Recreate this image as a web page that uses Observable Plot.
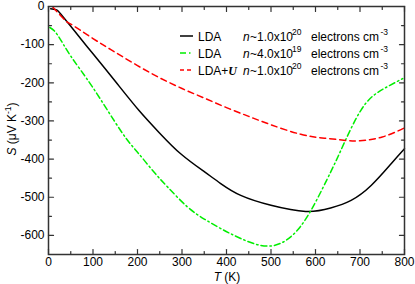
<!DOCTYPE html>
<html><head><meta charset="utf-8">
<script src="https://cdn.jsdelivr.net/npm/d3@7"></script>
<script src="https://cdn.jsdelivr.net/npm/@observablehq/plot@0.6"></script>
<style>
body{margin:0;background:#fff;}
#chart{position:relative;width:415px;height:284px;}
</style>
</head><body><div id="chart"></div>
<script>
// Series: LDA n~1.0e20
const tempLDA = [5, 15, 20, 27, 50, 100, 150, 203, 250, 297, 350, 387, 432, 500, 578, 634, 680, 725, 770, 800];
const seebeckLDA = [-6, -8, -10, -19, -52, -124, -196, -272, -332, -386, -433, -464, -495, -521, -537, -528, -508, -469, -412, -373];
// Series: LDA n~4.0e19
const tempLDA19 = [3, 20, 50, 100, 162, 200, 237, 270, 312, 350, 387, 432, 492, 545, 590, 634, 657, 702, 747, 796];
const seebeckLDA19 = [-55, -74, -130, -213, -325, -382, -434, -476, -525, -557, -582, -608, -628, -603, -534, -434, -377, -272, -220, -189];
// Series: LDA+U n~1.0e20
const tempLDAU = [10, 20, 38, 50, 100, 150, 200, 250, 300, 350, 400, 450, 500, 567, 620, 668, 700, 750, 800];
const seebeckLDAU = [-2, -15, -37, -46, -84, -120, -155, -187, -215, -240, -265, -288, -310, -335, -345, -351, -352, -342, -318];

const xMajor = [0, 100, 200, 300, 400, 500, 600, 700, 800];
const xMinor = [50, 150, 250, 350, 450, 550, 650, 750];
const yMajor = [0, -100, -200, -300, -400, -500, -600];
const yMinor = [-50, -150, -250, -350, -450, -550];

const rows = (ts, ss, name) => ts.map((t, i) => ({T: t, S: ss[i], series: name}));
const dataLDA = rows(tempLDA, seebeckLDA, "LDA 1.0e20");
const dataLDA19 = rows(tempLDA19, seebeckLDA19, "LDA 4.0e19");
const dataLDAU = rows(tempLDAU, seebeckLDAU, "LDA+U 1.0e20");

const tickShape = {draw(context, l) { context.moveTo(0, 0); context.lineTo(0, -l); }};
const axisCol = "#333";
const tk = (data, opts) => Plot.vector(data, {anchor: "start", shape: tickShape, stroke: axisCol, strokeWidth: 1.2, ...opts});

const plot = Plot.plot({
  width: 415, height: 284,
  marginLeft: 48, marginRight: 11, marginTop: 6, marginBottom: 30,
  style: {fontFamily: "'Liberation Sans', Arial, sans-serif", fontSize: "12px", color: "black", background: "white"},
  x: {domain: [0, 800], label: null},
  y: {domain: [-650, 0], label: null},
  marks: [
    Plot.line(dataLDA, {x: "T", y: "S", stroke: "black", strokeWidth: 1.5, curve: "natural"}),
    Plot.line(dataLDA19, {x: "T", y: "S", stroke: "#00ee00", strokeWidth: 1.5, strokeDasharray: "6,3,1.5,3", curve: "natural"}),
    Plot.line(dataLDAU, {x: "T", y: "S", stroke: "#ff0000", strokeWidth: 1.5, strokeDasharray: "6,4", curve: "natural"}),
    Plot.frame({stroke: axisCol, strokeWidth: 1.5}),
    tk(xMajor, {x: d => d, y: -650, rotate: 0, length: 5}),
    tk(xMinor, {x: d => d, y: -650, rotate: 0, length: 3}),
    tk(xMajor, {x: d => d, y: 0, rotate: 180, length: 5}),
    tk(xMinor, {x: d => d, y: 0, rotate: 180, length: 3}),
    tk(yMajor, {y: d => d, x: 0, rotate: 90, length: 5}),
    tk(yMinor, {y: d => d, x: 0, rotate: 90, length: 3}),
    tk(yMajor, {y: d => d, x: 800, rotate: 270, length: 5}),
    tk(yMinor, {y: d => d, x: 800, rotate: 270, length: 3}),
    Plot.axisX(xMajor, {tickSize: 0, tickPadding: 3, label: null, tickFormat: d => String(d)}),
    Plot.axisY(yMajor, {tickSize: 0, tickPadding: 4, label: null, tickFormat: d => String(d)})
  ]
});
document.getElementById("chart").appendChild(plot);

const svg = d3.select(plot);
const g = svg.append("g").attr("font-family", "'Liberation Sans', Arial, sans-serif").attr("font-size", 12)
  .attr("fill", "black").attr("text-anchor", "start");

// axis titles
const xl = g.append("text").attr("x", 227).attr("y", 281).attr("text-anchor", "middle");
xl.append("tspan").attr("font-style", "italic").text("T");
xl.append("tspan").text(" (K)");
const yl = g.append("text").attr("transform", "translate(16,129) rotate(-90)").attr("text-anchor", "middle");
yl.append("tspan").attr("font-style", "italic").text("S");
yl.append("tspan").text(" (\u03bcV K");
yl.append("tspan").attr("font-size", 8.5).attr("dy", -5).text("-1");
yl.append("tspan").attr("dy", 5).text(")");

// legend
const legend = [
  {label: "LDA", sup: "20", num: "~1.0x10", color: "black", dash: null, base: 41},
  {label: "LDA", sup: "19", num: "~4.0x10", color: "#00ee00", dash: "6,3,1.5,3", base: 58},
  {label: "LDA+", sup: "20", num: "~1.0x10", color: "#ff0000", dash: "4,3", base: 75, U: true}
];
legend.forEach(r => {
  g.append("line").attr("x1", 180).attr("x2", 193).attr("y1", r.base - 5).attr("y2", r.base - 5)
    .attr("stroke", r.color).attr("stroke-width", 1.5).attr("stroke-dasharray", r.dash);
  const t = g.append("text").attr("x", 198).attr("y", r.base);
  t.append("tspan").text(r.label);
  if (r.U) t.append("tspan").attr("font-family", "'Liberation Serif', serif").attr("font-style", "italic").attr("font-weight", "bold").text("U");
  g.append("text").attr("x", 243).attr("y", r.base).attr("font-style", "italic").text("n");
  g.append("text").attr("x", 250).attr("y", r.base).text(r.num);
  g.append("text").attr("x", 292).attr("y", r.base - 6.5).attr("font-size", 8.5).text(r.sup);
  g.append("text").attr("x", 311).attr("y", r.base).text("electrons cm");
  g.append("text").attr("x", 380.5).attr("y", r.base - 6.5).attr("font-size", 8.5).text("-3");
});
</script>
</body></html>
